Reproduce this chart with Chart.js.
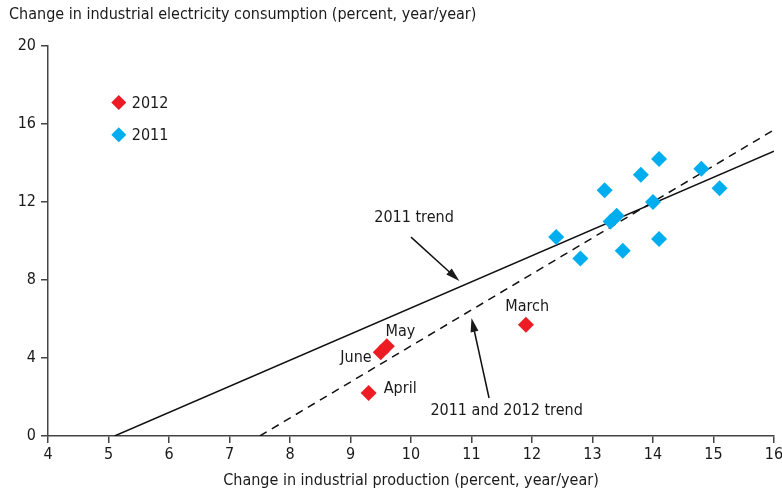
<!DOCTYPE html>
<html>
<head>
<meta charset="utf-8">
<script src="https://cdn.jsdelivr.net/npm/chart.js@4.4.1/dist/chart.umd.min.js"></script>
<style>
  html, body { margin: 0; padding: 0; background: #fff; }
  #wrap { width: 782px; height: 490px; }
</style>
</head>
<body>
<div id="wrap"><canvas id="chart"></canvas></div>
<script>
const FONT = "'Liberation Sans Narrow', 'Arial Narrow', 'DejaVu Sans Condensed', sans-serif";

// 2011 observations (industrial production, electricity consumption)
const prod2011 = [12.4, 12.8, 13.2, 13.3, 13.4, 13.5, 13.8, 14.0, 14.1, 14.1, 14.8, 15.1];
const elec2011 = [10.2, 9.1, 12.6, 11.0, 11.3, 9.5, 13.4, 12.0, 14.2, 10.1, 13.7, 12.7];

// 2012 observations
const months2012 = ["March", "April", "May", "June"];
const prod2012 = [11.9, 9.3, 9.6, 9.5];
const elec2012 = [5.7, 2.2, 4.6, 4.3];

// trend lines, end points
const trend2011X = [5.1, 16];
const trend2011Y = [0, 14.6];
const trendAllX = [7.5, 16];
const trendAllY = [0, 15.7];

const xTicks = [4, 5, 6, 7, 8, 9, 10, 11, 12, 13, 14, 15, 16];
const yTicks = [0, 4, 8, 12, 16, 20];

const RED = "#ED1C24";
const BLUE = "#00AEEF";
const AXIS = "#444";

const toPoints = (xs, ys) => xs.map((x, i) => ({ x, y: ys[i] }));

// text labels and arrows, placed in data units
const monthLabels = [
  { text: "March", x: 11.92, y: 6.6, align: "center" },
  { text: "May", x: 9.58, y: 5.35, align: "left" },
  { text: "June", x: 9.35, y: 4.0, align: "right" },
  { text: "April", x: 9.55, y: 2.4, align: "left" },
];

function arrow(ctx, x1, y1, x2, y2) {
  const ang = Math.atan2(y2 - y1, x2 - x1);
  const len = 14, wid = 4;
  ctx.beginPath();
  ctx.moveTo(x1, y1);
  ctx.lineTo(x2 - Math.cos(ang) * len * 0.8, y2 - Math.sin(ang) * len * 0.8);
  ctx.stroke();
  ctx.beginPath();
  ctx.moveTo(x2, y2);
  ctx.lineTo(x2 - Math.cos(ang) * len + Math.sin(ang) * wid, y2 - Math.sin(ang) * len - Math.cos(ang) * wid);
  ctx.lineTo(x2 - Math.cos(ang) * len - Math.sin(ang) * wid, y2 - Math.sin(ang) * len + Math.cos(ang) * wid);
  ctx.closePath();
  ctx.fill();
}

const annotations = {
  id: "annotations",
  afterDraw(chart) {
    const { ctx, scales: { x, y } } = chart;
    ctx.save();
    ctx.fillStyle = "#1a1a1a";
    ctx.strokeStyle = "#111";
    ctx.lineWidth = 1.5;
    ctx.font = "16px " + FONT;
    ctx.textBaseline = "middle";

    // y axis title, top left
    ctx.textAlign = "left";
    ctx.fillText("Change in industrial electricity consumption (percent, year/year)", 9, 15);

    // month labels
    monthLabels.forEach(l => {
      ctx.textAlign = l.align;
      ctx.fillText(l.text, x.getPixelForValue(l.x), y.getPixelForValue(l.y));
    });

    // trend labels and arrows
    ctx.textAlign = "center";
    ctx.fillText("2011 trend", x.getPixelForValue(10.05), y.getPixelForValue(11.2));
    arrow(ctx, x.getPixelForValue(10.0), y.getPixelForValue(10.2),
               x.getPixelForValue(10.8), y.getPixelForValue(7.95));

    ctx.fillText("2011 and 2012 trend", x.getPixelForValue(11.58), y.getPixelForValue(1.3));
    arrow(ctx, x.getPixelForValue(11.29), y.getPixelForValue(1.95),
               x.getPixelForValue(11.0), y.getPixelForValue(6.05));

    // legend
    const legend = [
      { label: "2012", color: RED, y: 17.1 },
      { label: "2011", color: BLUE, y: 15.45 },
    ];
    legend.forEach(item => {
      const px = x.getPixelForValue(5.17);
      const py = y.getPixelForValue(item.y);
      ctx.fillStyle = item.color;
      ctx.beginPath();
      ctx.moveTo(px, py - 7.5);
      ctx.lineTo(px + 7.5, py);
      ctx.lineTo(px, py + 7.5);
      ctx.lineTo(px - 7.5, py);
      ctx.closePath();
      ctx.fill();
      ctx.fillStyle = "#1a1a1a";
      ctx.textAlign = "left";
      ctx.fillText(item.label, px + 13, py + 1);
    });
    ctx.restore();
  }
};

new Chart(document.getElementById("chart"), {
  type: "scatter",
  data: {
    datasets: [
      {
        label: "2011",
        data: toPoints(prod2011, elec2011),
        pointStyle: "rectRot",
        pointRadius: 8,
        pointHoverRadius: 8,
        backgroundColor: BLUE,
        borderWidth: 0,
        order: 2,
      },
      {
        label: "2012",
        data: toPoints(prod2012, elec2012),
        pointStyle: "rectRot",
        pointRadius: 8,
        pointHoverRadius: 8,
        backgroundColor: RED,
        borderWidth: 0,
        order: 1,
      },
      {
        type: "line",
        label: "2011 trend",
        data: toPoints(trend2011X, trend2011Y),
        borderColor: "#111",
        borderWidth: 1.5,
        pointRadius: 0,
        fill: false,
        order: 3,
      },
      {
        type: "line",
        label: "2011 and 2012 trend",
        data: toPoints(trendAllX, trendAllY),
        borderColor: "#111",
        borderWidth: 1.5,
        borderDash: [8, 6],
        pointRadius: 0,
        fill: false,
        order: 3,
      },
    ],
  },
  options: {
    responsive: true,
    maintainAspectRatio: false,
    animation: false,
    layout: { padding: { top: 46, right: 4, left: 0, bottom: 0 } },
    plugins: {
      legend: { display: false },
      tooltip: { enabled: false },
    },
    scales: {
      x: {
        type: "linear",
        min: 4,
        max: 16,
        afterBuildTicks: axis => { axis.ticks = xTicks.map(v => ({ value: v })); },
        afterFit: axis => { axis.height = 54; axis.paddingLeft = 0; axis.paddingRight = 0; },
        grid: { drawOnChartArea: false, drawTicks: true, tickLength: 7, color: AXIS, lineWidth: 1.5 },
        border: { color: AXIS, width: 1.5 },
        ticks: { color: "#1a1a1a", font: { family: FONT, size: 16 }, padding: 2, maxRotation: 0 },
        title: {
          display: true,
          text: "Change in industrial production (percent, year/year)",
          color: "#1a1a1a",
          font: { family: FONT, size: 16 },
          padding: { top: 2, bottom: 0 },
        },
      },
      y: {
        type: "linear",
        min: 0,
        max: 20,
        afterBuildTicks: axis => { axis.ticks = yTicks.map(v => ({ value: v })); },
        afterFit: axis => { axis.width = 48; axis.paddingTop = 0; axis.paddingBottom = 0; },
        grid: { drawOnChartArea: false, drawTicks: true, tickLength: 7, color: AXIS, lineWidth: 1.5 },
        border: { color: AXIS, width: 1.5 },
        ticks: { color: "#1a1a1a", font: { family: FONT, size: 16 }, padding: 5 },
      },
    },
  },
  plugins: [annotations],
});
</script>
</body>
</html>
